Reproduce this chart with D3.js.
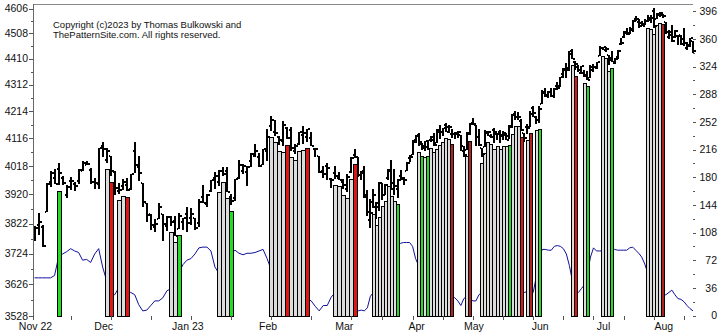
<!DOCTYPE html>
<html><head><meta charset="utf-8">
<script src="https://cdn.jsdelivr.net/npm/d3@7"></script>
<style>body{margin:0;background:#fff}svg{display:block}text{font-family:"Liberation Sans",Arial,sans-serif}</style>
</head><body><svg id="c" width="725" height="334"></svg>
<script>
// ---- data (S&P 500 daily bars) ----
const dates = [
"2022-11-07","2022-11-08","2022-11-09","2022-11-10","2022-11-11","2022-11-14","2022-11-15","2022-11-16","2022-11-17","2022-11-18","2022-11-21","2022-11-22","2022-11-23","2022-11-25","2022-11-28","2022-11-29","2022-11-30",
"2022-12-01","2022-12-02","2022-12-05","2022-12-06","2022-12-07","2022-12-08","2022-12-09","2022-12-12","2022-12-13","2022-12-14","2022-12-15","2022-12-16","2022-12-19","2022-12-20","2022-12-21","2022-12-22","2022-12-23","2022-12-27","2022-12-28","2022-12-29","2022-12-30",
"2023-01-03","2023-01-04","2023-01-05","2023-01-06","2023-01-09","2023-01-10","2023-01-11","2023-01-12","2023-01-13","2023-01-17","2023-01-18","2023-01-19","2023-01-20","2023-01-23","2023-01-24","2023-01-25","2023-01-26","2023-01-27","2023-01-30","2023-01-31",
"2023-02-01","2023-02-02","2023-02-03","2023-02-06","2023-02-07","2023-02-08","2023-02-09","2023-02-10","2023-02-13","2023-02-14","2023-02-15","2023-02-16","2023-02-17","2023-02-21","2023-02-22","2023-02-23","2023-02-24","2023-02-27","2023-02-28",
"2023-03-01","2023-03-02","2023-03-03","2023-03-06","2023-03-07","2023-03-08","2023-03-09","2023-03-10","2023-03-13","2023-03-14","2023-03-15","2023-03-16","2023-03-17","2023-03-20","2023-03-21","2023-03-22","2023-03-23","2023-03-24","2023-03-27","2023-03-28","2023-03-29","2023-03-30","2023-03-31",
"2023-04-03","2023-04-04","2023-04-05","2023-04-06","2023-04-10","2023-04-11","2023-04-12","2023-04-13","2023-04-14","2023-04-17","2023-04-18","2023-04-19","2023-04-20","2023-04-21","2023-04-24","2023-04-25","2023-04-26","2023-04-27","2023-04-28",
"2023-05-01","2023-05-02","2023-05-03","2023-05-04","2023-05-05","2023-05-08","2023-05-09","2023-05-10","2023-05-11","2023-05-12","2023-05-15","2023-05-16","2023-05-17","2023-05-18","2023-05-19","2023-05-22","2023-05-23","2023-05-24","2023-05-25","2023-05-26","2023-05-30","2023-05-31",
"2023-06-01","2023-06-02","2023-06-05","2023-06-06","2023-06-07","2023-06-08","2023-06-09","2023-06-12","2023-06-13","2023-06-14","2023-06-15","2023-06-16","2023-06-20","2023-06-21","2023-06-22","2023-06-23","2023-06-26","2023-06-27","2023-06-28","2023-06-29","2023-06-30",
"2023-07-03","2023-07-05","2023-07-06","2023-07-07","2023-07-10","2023-07-11","2023-07-12","2023-07-13","2023-07-14","2023-07-17","2023-07-18","2023-07-19","2023-07-20","2023-07-21","2023-07-24","2023-07-25","2023-07-26","2023-07-27","2023-07-28","2023-07-31",
"2023-08-01","2023-08-02","2023-08-03","2023-08-04","2023-08-07","2023-08-08","2023-08-09","2023-08-10","2023-08-11","2023-08-14","2023-08-15"];
const open = [3781,3817,3811,3860,3964,3978,4006,3977,3919,3966,3956,3966,4000,4023,4005,3964,3957,
4087,4040,4052,3997,3933,3948,3954,3939,4069,4016,3958,3891,3854,3810,3839,3853,3815,3843,3830,3805,3829,
3853,3840,3840,3823,3911,3889,3932,3978,3961,3999,4002,3912,3909,3978,4002,3997,4036,4054,4049,4021,
4070,4159,4137,4120,4105,4153,4144,4069,4097,4127,4120,4115,4077,4052,4002,4019,3973,3992,3977,
3963,3939,3998,4055,4048,3988,3999,3913,3835,3894,3877,3879,3959,3917,3976,4002,3959,3939,3983,3974,4000,4047,4056,
4102,4128,4095,4081,4085,4110,4122,4100,4140,4137,4164,4139,4130,4132,4132,4126,4088,4075,4130,
4167,4164,4122,4083,4085,4137,4124,4144,4132,4139,4127,4128,4123,4158,4204,4191,4177,4133,4156,4156,4227,4191,
4183,4241,4283,4271,4285,4269,4305,4308,4353,4366,4365,4441,4396,4380,4355,4354,4345,4337,4367,4375,4422,
4450,4442,4423,4405,4394,4416,4468,4492,4515,4509,4522,4564,4554,4550,4543,4555,4559,4598,4566,4585,
4579,4551,4494,4514,4492,4498,4502,4487,4451,4458,4479];
const high = [3814,3859,3818,3958,4001,4009,4029,3983,3954,3980,3962,4006,4034,4034,4012,3977,4080,
4101,4080,4052,4002,3958,3974,3977,3991,4101,4054,3958,3891,3855,3838,3890,3853,3846,3847,3848,3858,3840,
3878,3873,3840,3906,3951,3920,3970,3998,4004,4015,4014,3923,3973,4039,4024,4019,4062,4094,4064,4077,
4149,4195,4182,4125,4177,4157,4156,4094,4139,4160,4148,4137,4082,4052,4017,4028,3978,4018,3998,
3972,3991,4048,4078,4050,4000,4018,3934,3905,3937,3894,3964,3959,3957,4009,4039,4008,3973,4004,3979,4031,4058,4111,
4128,4133,4100,4107,4110,4124,4134,4150,4163,4152,4169,4163,4149,4138,4142,4126,4090,4138,4170,
4187,4164,4148,4083,4147,4142,4130,4154,4133,4144,4141,4136,4165,4202,4213,4209,4186,4133,4166,4213,4231,4195,
4232,4291,4299,4288,4299,4298,4323,4340,4375,4392,4439,4448,4400,4386,4382,4367,4362,4384,4390,4398,4458,
4456,4454,4423,4440,4413,4444,4488,4517,4528,4533,4562,4578,4565,4555,4563,4581,4582,4607,4590,4594,
4585,4551,4519,4540,4520,4503,4502,4527,4476,4490,4479];
const low = [3765,3786,3744,3860,3945,3956,3953,3954,3907,3936,3933,3957,3999,4021,3956,3938,3939,
4051,4027,3984,3918,3923,3936,3933,3935,3993,3966,3879,3828,3800,3796,3839,3764,3797,3813,3781,3805,3800,
3794,3816,3802,3810,3890,3877,3929,3938,3948,3985,3927,3886,3898,3972,3990,3949,4013,4049,4016,4020,
4037,4142,4123,4093,4088,4112,4070,4061,4093,4095,4104,4089,4048,3995,3977,3969,3943,3974,3969,
3939,3928,3995,4045,3980,3970,3909,3846,3809,3874,3838,3864,3901,3917,3971,3936,3919,3909,3970,3952,4000,4032,4056,
4099,4087,4073,4070,4073,4103,4087,4099,4113,4123,4140,4134,4115,4114,4118,4071,4049,4075,4127,
4164,4090,4089,4048,4085,4124,4117,4099,4109,4099,4110,4110,4114,4154,4180,4180,4143,4104,4130,4156,4192,4166,
4172,4241,4267,4263,4264,4261,4292,4304,4338,4338,4363,4407,4367,4360,4352,4341,4328,4335,4360,4372,4422,
4442,4437,4385,4397,4390,4408,4463,4489,4500,4505,4515,4557,4528,4536,4541,4552,4548,4529,4564,4573,
4568,4506,4486,4475,4491,4464,4461,4458,4444,4453,4432];
const close = [3807,3828,3749,3956,3993,3957,3992,3959,3947,3965,3950,4004,4027,4026,3964,3958,4080,
4077,4072,3999,3941,3934,3964,3934,3991,4020,3995,3896,3852,3818,3822,3878,3822,3845,3829,3783,3849,3840,
3824,3853,3808,3895,3892,3919,3970,3983,3999,3991,3929,3899,3973,4020,4017,4016,4060,4071,4018,4077,
4119,4180,4136,4111,4164,4118,4082,4090,4137,4136,4148,4090,4079,3997,3991,4012,3970,3982,3970,
3951,3981,4046,4048,3986,3992,3918,3862,3856,3919,3892,3960,3917,3952,4003,3937,3949,3971,3978,3971,4028,4051,4109,
4125,4101,4090,4105,4109,4109,4092,4146,4138,4151,4155,4155,4130,4134,4137,4072,4056,4135,4169,
4168,4120,4091,4061,4136,4138,4119,4138,4131,4124,4136,4110,4159,4198,4192,4193,4146,4115,4151,4205,4206,4180,
4221,4282,4274,4284,4268,4294,4299,4339,4369,4373,4426,4410,4389,4366,4382,4348,4329,4378,4377,4396,4450,
4456,4447,4412,4399,4410,4439,4472,4510,4505,4523,4555,4566,4535,4536,4555,4567,4567,4537,4582,4589,
4577,4513,4502,4478,4518,4499,4468,4469,4464,4490,4438];
// blue indicator, right axis
const indicator = [49,49,49,49,49,52,76,80,83,87,84,82,72,73,69,80,87,
63,45,28,27,36,33,31,30,27,14,6,7,13,19,19,23,32,35,45,55,66,
72,74,80,88,89,89,84,63,55,60,70,80,85,81,79,81,81,82,84,86,
74,60,55,50,45,40,35,30,28,25,22,19,12,6,13,13,24,30,28,25,
20,15,10,6,7,6,10,25,30,40,50,60,70,75,80,85,90,94,95,95,95,90,
74,65,55,50,45,40,38,36,34,32,30,28,26,23,19,13,22,25,22,
19,19,27,30,28,26,25,24,23,22,21,20,22,24,26,28,29,30,31,30,30,50,
75,86,86,85,85,90,91,90,87,80,65,45,32,30,35,40,55,76,88,84,84,
84,84,85,86,86,85,85,85,85,88,89,85,81,76,67,55,45,35,30,28,
26,27,30,33,27,22,21,18,13,9,6];
// highlighted days
const grayDays = ["2022-12-02","2022-12-07","2022-12-08","2022-12-27","2022-12-28","2023-01-13","2023-01-17","2023-01-18",
"2023-02-02","2023-02-03","2023-02-06","2023-02-07","2023-02-09","2023-02-10","2023-02-13","2023-02-14",
"2023-02-27","2023-02-28","2023-03-01","2023-03-02","2023-03-03",
"2023-03-14","2023-03-15","2023-03-16","2023-03-17","2023-03-20","2023-03-21","2023-03-22","2023-03-23",
"2023-04-04","2023-04-06","2023-04-11","2023-04-12","2023-04-13","2023-04-14","2023-04-17","2023-04-18","2023-04-19","2023-04-27",
"2023-05-04","2023-05-05","2023-05-08","2023-05-09","2023-05-10","2023-05-11","2023-05-12","2023-05-15","2023-05-16",
"2023-05-18","2023-05-19","2023-05-22","2023-05-25","2023-05-31",
"2023-06-16","2023-06-23","2023-07-03","2023-07-05","2023-07-06",
"2023-07-25","2023-07-26","2023-07-27","2023-07-28","2023-07-31"];
const greenDays = ["2022-11-15","2022-12-29","2023-01-19","2023-03-24","2023-04-05","2023-04-10","2023-05-17","2023-06-01","2023-06-26","2023-07-07"];
const redDays = ["2022-12-05","2022-12-09","2023-02-08","2023-02-15","2023-03-06","2023-05-23","2023-06-20"];
const darkRedDays = ["2023-04-20","2023-04-28","2023-05-26","2023-08-01"];
const priceTicks = [4606,4508,4410,4312,4214,4116,4018,3920,3822,3724,3626,3528];
const rightTicks = [0,36,72,108,144,180,216,252,288,324,360,396];
const monthLabels = ["Nov 22","Dec","Jan 23","Feb","Mar","Apr","May","Jun","Jul","Aug"];
const monthFirstDays = ["2022-11-07","2022-12-01","2023-01-03","2023-02-01","2023-03-01","2023-04-03","2023-05-01","2023-06-01","2023-07-03","2023-08-01"];
const copyright = ["Copyright (c)2023 by Thomas Bulkowski and","ThePatternSite.com. All rights reserved."];

// ---- drawing ----
const svg = d3.select("#c");
const n = dates.length;
const idx = d3.range(n);
const pos = new Map(dates.map((d,i)=>[d,i]));
const x = d3.scaleLinear().domain([0, 80, n-1]).range([34.5, 355.3, 693]);
const y = d3.scaleLog().domain([3528, 4606]).range([316, 8.5]);
const yR = d3.scaleLinear().domain([0, 396]).range([315.5, 11.2]);
const bottom = 316;

// blue line
svg.append("path")
  .attr("d", d3.line().x(i=>x(i)).y(i=>yR(indicator[i]))(idx))
  .attr("fill","none").attr("stroke","#10109c").attr("stroke-width",1);

// highlight bars
const kinds = [];
grayDays.forEach(d=>kinds.push({i:pos.get(d), c:"#dcdcdc"}));
greenDays.forEach(d=>kinds.push({i:pos.get(d), c:"#22dd22"}));
redDays.forEach(d=>kinds.push({i:pos.get(d), c:"#e01515"}));
darkRedDays.forEach(d=>kinds.push({i:pos.get(d), c:"#b02222"}));
svg.append("g").selectAll("rect").data(kinds).join("rect")
  .attr("x", d=>Math.round(x(d.i-0.5))+0.5)
  .attr("width", d=>Math.round(x(d.i+0.5))-Math.round(x(d.i-0.5)))
  .attr("y", d=>Math.round(y(low[d.i]))+6.5)
  .attr("height", d=>bottom-(Math.round(y(low[d.i]))+6.5))
  .attr("fill", d=>d.c).attr("stroke","#000").attr("stroke-width",1)
  .attr("shape-rendering","crispEdges");

// price bars
const gb = svg.append("g").attr("fill","#000").attr("shape-rendering","crispEdges");
idx.forEach(i=>{
  const c = Math.round(x(i));
  const yh = Math.round(y(high[i])), yl = Math.round(y(low[i]));
  gb.append("rect").attr("x",c-1).attr("width",2).attr("y",yh).attr("height",Math.max(1,yl-yh));
  gb.append("rect").attr("x",c-2).attr("width",1).attr("y",Math.round(y(open[i]))-1).attr("height",2);
  gb.append("rect").attr("x",c+1).attr("width",2).attr("y",Math.round(y(close[i]))-1).attr("height",2);
});

// frame
svg.append("line").attr("x1",33).attr("x2",693).attr("y1",4.5).attr("y2",4.5).attr("stroke","#888");
svg.append("line").attr("x1",33.5).attr("x2",33.5).attr("y1",4).attr("y2",316).attr("stroke","#666");

// left axis
const la = svg.append("g").attr("font-size","10.5px").attr("fill","#111");
priceTicks.forEach(v=>{
  la.append("line").attr("x1",29).attr("x2",33).attr("y1",Math.round(y(v))+0.5).attr("y2",Math.round(y(v))+0.5).attr("stroke","#555");
  la.append("text").attr("x",28).attr("y",y(v)).attr("dy","0.36em").attr("text-anchor","end").text(v);
});
d3.pairs(priceTicks).forEach(([a,b])=>{
  const m=(a+b)/2;
  la.append("line").attr("x1",31).attr("x2",33).attr("y1",Math.round(y(m))+0.5).attr("y2",Math.round(y(m))+0.5).attr("stroke","#555");
});
// right axis
const ra = svg.append("g").attr("font-size","10.5px").attr("fill","#111");
rightTicks.forEach(v=>{
  ra.append("line").attr("x1",693).attr("x2",696).attr("y1",Math.round(yR(v))+0.5).attr("y2",Math.round(yR(v))+0.5).attr("stroke","#555");
  ra.append("text").attr("x",717).attr("y",yR(v)).attr("dy","0.36em").attr("text-anchor","end").text(v);
});
d3.pairs(rightTicks).forEach(([a,b])=>{
  const m=(a+b)/2;
  ra.append("line").attr("x1",693).attr("x2",695).attr("y1",Math.round(yR(m))+0.5).attr("y2",Math.round(yR(m))+0.5).attr("stroke","#555");
});
// bottom axis
const ba = svg.append("g").attr("font-size","10.5px").attr("fill","#111");
const tickIdx = [-1].concat(d3.range(9, n, 10));
tickIdx.forEach(i=>{
  const xx = i<0 ? 33.5 : Math.round(x(i))+0.5;
  ba.append("line").attr("x1",xx).attr("x2",xx).attr("y1",316).attr("y2",320).attr("stroke","#555");
});
monthLabels.forEach((m,k)=>{
  ba.append("text").attr("x",x(pos.get(monthFirstDays[k]))+1).attr("y",330).attr("text-anchor","middle").text(m);
});
// copyright
svg.append("g").attr("font-size","9.5px").attr("fill","#111").selectAll("text").data(copyright).join("text")
  .attr("x",53).attr("y",(d,k)=>28+k*10.3).text(d=>d);
</script></body></html>
